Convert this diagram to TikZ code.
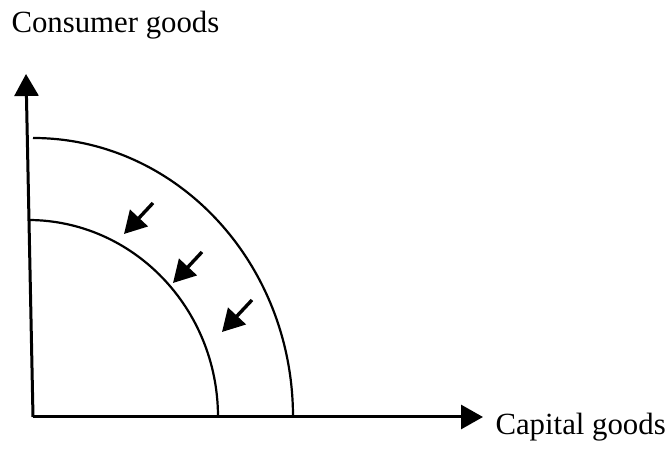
\documentclass[tikz,border=0pt]{standalone}
\usepackage{fontspec}
\setmainfont{Liberation Serif}
\usetikzlibrary{arrows.meta}

\begin{document}
\begin{tikzpicture}[x=0.5bp,y=0.5bp,line width=1.5bp,>={Triangle[length=11bp,width=12bp]},
  curve/.style={line width=1.1bp},
  inward/.style={->,line width=1.7bp},
  lbl/.style={inner sep=0pt,anchor=base west,font=\fontsize{15.4bp}{18bp}\selectfont}]
  \useasboundingbox (-33,-36) rectangle (632,417);
  % ejes
  \coordinate (O) at (0,0);
  \coordinate (ytip) at (-7,343);
  \coordinate (xtip) at (450,0);
  \draw[->] (O)--(ytip);
  \draw[->] (O)--(xtip);
  \node[lbl] (ylab) at (-23,384) {Consumer goods};
  \node[lbl] (xlab) at (461,-18) {Capital goods};
  % fronteras
  \draw[curve] (0,279) arc[start angle=90,end angle=0,x radius=260,y radius=279];
  \draw[curve] (-5,197) arc[start angle=90,end angle=0,x radius=190,y radius=197];
  % desplazamiento hacia dentro
  \coordinate (a1) at (120,214); \coordinate (b1) at (91,183);
  \coordinate (a2) at (169,165); \coordinate (b2) at (140,134);
  \coordinate (a3) at (219,117); \coordinate (b3) at (189,85);
  \draw[inward] (a1)--(b1);
  \draw[inward] (a2)--(b2);
  \draw[inward] (a3)--(b3);
\end{tikzpicture}
\end{document}
